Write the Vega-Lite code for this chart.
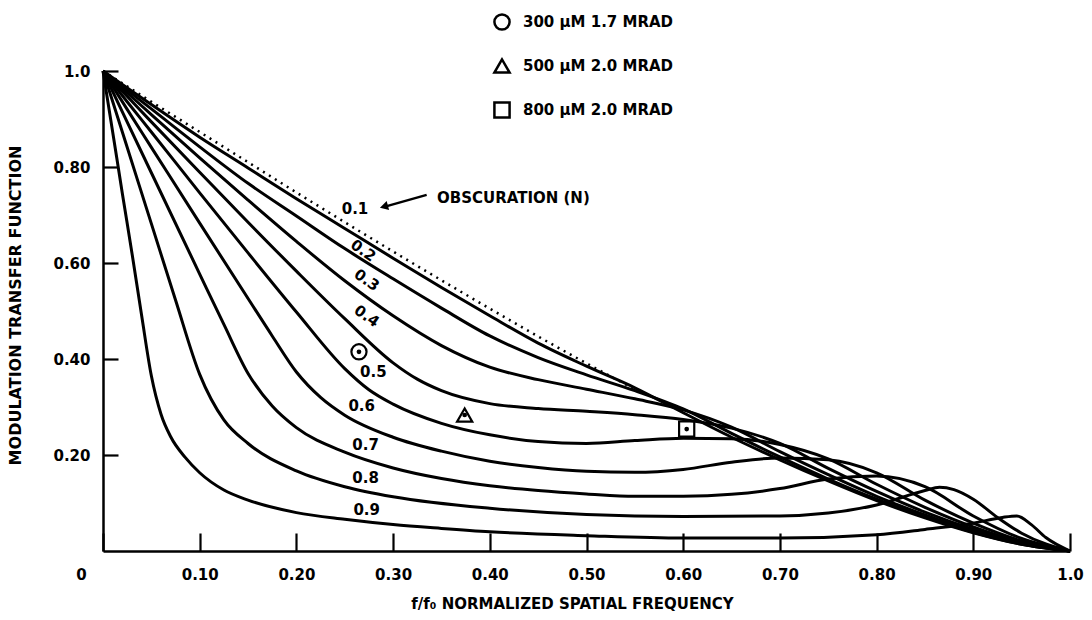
{
  "$schema": "https://vega.github.io/schema/vega-lite/v6.json",
  "width": 967,
  "height": 480,
  "autosize": "none",
  "padding": {"left": 103, "top": 71, "right": 22, "bottom": 69},
  "background": "white",
  "config": {
    "view": {"stroke": null},
    "font": "DejaVu Sans",
    "axis": {
      "labelFont": "DejaVu Sans", "labelFontWeight": "bold", "labelFontSize": 15, "labelColor": "black",
      "titleFont": "DejaVu Sans", "titleFontWeight": "bold", "titleFontSize": 15, "titleColor": "black",
      "domainColor": "black", "domainWidth": 2.5, "tickColor": "black", "tickWidth": 2.2, "grid": false
    }
  },
  "datasets": {
    "curves": [
      {"n":"0.1","x":0,"y":1},{"n":"0.1","x":0.02,"y":0.972},{"n":"0.1","x":0.05,"y":0.93},{"n":"0.1","x":0.1,"y":0.862},{"n":"0.1","x":0.15,"y":0.798},{"n":"0.1","x":0.2,"y":0.734},{"n":"0.1","x":0.25,"y":0.672},{"n":"0.1","x":0.3,"y":0.61},{"n":"0.1","x":0.35,"y":0.549},{"n":"0.1","x":0.4,"y":0.49},{"n":"0.1","x":0.45,"y":0.433},{"n":"0.1","x":0.5,"y":0.385},{"n":"0.1","x":0.55,"y":0.34},{"n":"0.1","x":0.6,"y":0.288},{"n":"0.1","x":0.65,"y":0.237},{"n":"0.1","x":0.7,"y":0.19},{"n":"0.1","x":0.75,"y":0.146},{"n":"0.1","x":0.8,"y":0.105},{"n":"0.1","x":0.85,"y":0.069},{"n":"0.1","x":0.9,"y":0.038},{"n":"0.1","x":0.95,"y":0.014},{"n":"0.1","x":1,"y":0},
      {"n":"0.2","x":0,"y":1},{"n":"0.2","x":0.02,"y":0.968},{"n":"0.2","x":0.05,"y":0.921},{"n":"0.2","x":0.1,"y":0.842},{"n":"0.2","x":0.15,"y":0.766},{"n":"0.2","x":0.2,"y":0.698},{"n":"0.2","x":0.25,"y":0.63},{"n":"0.2","x":0.3,"y":0.567},{"n":"0.2","x":0.35,"y":0.506},{"n":"0.2","x":0.4,"y":0.448},{"n":"0.2","x":0.45,"y":0.403},{"n":"0.2","x":0.5,"y":0.367},{"n":"0.2","x":0.55,"y":0.334},{"n":"0.2","x":0.6,"y":0.296},{"n":"0.2","x":0.65,"y":0.245},{"n":"0.2","x":0.7,"y":0.196},{"n":"0.2","x":0.75,"y":0.15},{"n":"0.2","x":0.8,"y":0.108},{"n":"0.2","x":0.85,"y":0.071},{"n":"0.2","x":0.9,"y":0.039},{"n":"0.2","x":0.95,"y":0.014},{"n":"0.2","x":1,"y":0},
      {"n":"0.3","x":0,"y":1},{"n":"0.3","x":0.02,"y":0.964},{"n":"0.3","x":0.05,"y":0.909},{"n":"0.3","x":0.1,"y":0.819},{"n":"0.3","x":0.15,"y":0.731},{"n":"0.3","x":0.2,"y":0.645},{"n":"0.3","x":0.25,"y":0.563},{"n":"0.3","x":0.3,"y":0.49},{"n":"0.3","x":0.35,"y":0.428},{"n":"0.3","x":0.4,"y":0.383},{"n":"0.3","x":0.45,"y":0.357},{"n":"0.3","x":0.5,"y":0.337},{"n":"0.3","x":0.55,"y":0.317},{"n":"0.3","x":0.6,"y":0.294},{"n":"0.3","x":0.65,"y":0.258},{"n":"0.3","x":0.7,"y":0.207},{"n":"0.3","x":0.75,"y":0.159},{"n":"0.3","x":0.8,"y":0.114},{"n":"0.3","x":0.85,"y":0.075},{"n":"0.3","x":0.9,"y":0.041},{"n":"0.3","x":0.95,"y":0.015},{"n":"0.3","x":1,"y":0},
      {"n":"0.4","x":0,"y":1},{"n":"0.4","x":0.02,"y":0.958},{"n":"0.4","x":0.05,"y":0.894},{"n":"0.4","x":0.1,"y":0.789},{"n":"0.4","x":0.15,"y":0.685},{"n":"0.4","x":0.2,"y":0.583},{"n":"0.4","x":0.25,"y":0.484},{"n":"0.4","x":0.3,"y":0.392},{"n":"0.4","x":0.325,"y":0.358},{"n":"0.4","x":0.35,"y":0.334},{"n":"0.4","x":0.4,"y":0.307},{"n":"0.4","x":0.45,"y":0.297},{"n":"0.4","x":0.5,"y":0.291},{"n":"0.4","x":0.55,"y":0.284},{"n":"0.4","x":0.6,"y":0.274},{"n":"0.4","x":0.65,"y":0.256},{"n":"0.4","x":0.7,"y":0.224},{"n":"0.4","x":0.75,"y":0.172},{"n":"0.4","x":0.8,"y":0.124},{"n":"0.4","x":0.85,"y":0.081},{"n":"0.4","x":0.9,"y":0.045},{"n":"0.4","x":0.95,"y":0.016},{"n":"0.4","x":1,"y":0},
      {"n":"0.5","x":0,"y":1},{"n":"0.5","x":0.025,"y":0.936},{"n":"0.5","x":0.05,"y":0.873},{"n":"0.5","x":0.1,"y":0.746},{"n":"0.5","x":0.15,"y":0.621},{"n":"0.5","x":0.2,"y":0.498},{"n":"0.5","x":0.25,"y":0.38},{"n":"0.5","x":0.275,"y":0.336},{"n":"0.5","x":0.3,"y":0.306},{"n":"0.5","x":0.35,"y":0.266},{"n":"0.5","x":0.4,"y":0.242},{"n":"0.5","x":0.45,"y":0.228},{"n":"0.5","x":0.5,"y":0.224},{"n":"0.5","x":0.55,"y":0.23},{"n":"0.5","x":0.6,"y":0.235},{"n":"0.5","x":0.65,"y":0.234},{"n":"0.5","x":0.7,"y":0.222},{"n":"0.5","x":0.75,"y":0.192},{"n":"0.5","x":0.8,"y":0.139},{"n":"0.5","x":0.85,"y":0.091},{"n":"0.5","x":0.9,"y":0.05},{"n":"0.5","x":0.95,"y":0.018},{"n":"0.5","x":1,"y":0},
      {"n":"0.6","x":0,"y":1},{"n":"0.6","x":0.025,"y":0.92},{"n":"0.6","x":0.05,"y":0.841},{"n":"0.6","x":0.1,"y":0.683},{"n":"0.6","x":0.15,"y":0.526},{"n":"0.6","x":0.175,"y":0.448},{"n":"0.6","x":0.2,"y":0.373},{"n":"0.6","x":0.225,"y":0.32},{"n":"0.6","x":0.25,"y":0.283},{"n":"0.6","x":0.3,"y":0.237},{"n":"0.6","x":0.35,"y":0.208},{"n":"0.6","x":0.4,"y":0.187},{"n":"0.6","x":0.45,"y":0.174},{"n":"0.6","x":0.5,"y":0.166},{"n":"0.6","x":0.55,"y":0.164},{"n":"0.6","x":0.6,"y":0.17},{"n":"0.6","x":0.65,"y":0.185},{"n":"0.6","x":0.7,"y":0.194},{"n":"0.6","x":0.75,"y":0.19},{"n":"0.6","x":0.8,"y":0.163},{"n":"0.6","x":0.85,"y":0.106},{"n":"0.6","x":0.9,"y":0.058},{"n":"0.6","x":0.95,"y":0.021},{"n":"0.6","x":1,"y":0},
      {"n":"0.7","x":0,"y":1},{"n":"0.7","x":0.02,"y":0.915},{"n":"0.7","x":0.05,"y":0.788},{"n":"0.7","x":0.1,"y":0.577},{"n":"0.7","x":0.125,"y":0.472},{"n":"0.7","x":0.15,"y":0.37},{"n":"0.7","x":0.175,"y":0.302},{"n":"0.7","x":0.2,"y":0.257},{"n":"0.7","x":0.25,"y":0.206},{"n":"0.7","x":0.3,"y":0.173},{"n":"0.7","x":0.35,"y":0.151},{"n":"0.7","x":0.4,"y":0.136},{"n":"0.7","x":0.45,"y":0.126},{"n":"0.7","x":0.5,"y":0.119},{"n":"0.7","x":0.55,"y":0.114},{"n":"0.7","x":0.6,"y":0.114},{"n":"0.7","x":0.65,"y":0.118},{"n":"0.7","x":0.7,"y":0.13},{"n":"0.7","x":0.75,"y":0.15},{"n":"0.7","x":0.8,"y":0.156},{"n":"0.7","x":0.85,"y":0.134},{"n":"0.7","x":0.9,"y":0.073},{"n":"0.7","x":0.95,"y":0.026},{"n":"0.7","x":1,"y":0},
      {"n":"0.8","x":0,"y":1},{"n":"0.8","x":0.02,"y":0.873},{"n":"0.8","x":0.05,"y":0.682},{"n":"0.8","x":0.075,"y":0.523},{"n":"0.8","x":0.1,"y":0.368},{"n":"0.8","x":0.125,"y":0.273},{"n":"0.8","x":0.15,"y":0.224},{"n":"0.8","x":0.2,"y":0.167},{"n":"0.8","x":0.25,"y":0.134},{"n":"0.8","x":0.3,"y":0.113},{"n":"0.8","x":0.4,"y":0.089},{"n":"0.8","x":0.5,"y":0.076},{"n":"0.8","x":0.6,"y":0.072},{"n":"0.8","x":0.7,"y":0.073},{"n":"0.8","x":0.75,"y":0.079},{"n":"0.8","x":0.8,"y":0.096},{"n":"0.8","x":0.85,"y":0.126},{"n":"0.8","x":0.865,"y":0.133},{"n":"0.8","x":0.88,"y":0.128},{"n":"0.8","x":0.9,"y":0.108},{"n":"0.8","x":0.925,"y":0.07},{"n":"0.8","x":0.95,"y":0.037},{"n":"0.8","x":1,"y":0},
      {"n":"0.9","x":0,"y":1},{"n":"0.9","x":0.01,"y":0.873},{"n":"0.9","x":0.02,"y":0.745},{"n":"0.9","x":0.03,"y":0.62},{"n":"0.9","x":0.04,"y":0.49},{"n":"0.9","x":0.05,"y":0.365},{"n":"0.9","x":0.06,"y":0.285},{"n":"0.9","x":0.07,"y":0.238},{"n":"0.9","x":0.085,"y":0.195},{"n":"0.9","x":0.1,"y":0.163},{"n":"0.9","x":0.125,"y":0.127},{"n":"0.9","x":0.15,"y":0.106},{"n":"0.9","x":0.2,"y":0.08},{"n":"0.9","x":0.25,"y":0.066},{"n":"0.9","x":0.3,"y":0.055},{"n":"0.9","x":0.35,"y":0.047},{"n":"0.9","x":0.4,"y":0.04},{"n":"0.9","x":0.5,"y":0.032},{"n":"0.9","x":0.6,"y":0.027},{"n":"0.9","x":0.7,"y":0.027},{"n":"0.9","x":0.8,"y":0.034},{"n":"0.9","x":0.85,"y":0.045},{"n":"0.9","x":0.9,"y":0.058},{"n":"0.9","x":0.93,"y":0.07},{"n":"0.9","x":0.945,"y":0.073},{"n":"0.9","x":0.96,"y":0.055},{"n":"0.9","x":0.975,"y":0.028},{"n":"0.9","x":1,"y":0}
    ],
    "dotted": [
      {"x":0,"y":1},{"x":0.05,"y":0.936},{"x":0.1,"y":0.873},{"x":0.15,"y":0.81},{"x":0.2,"y":0.747},{"x":0.25,"y":0.685},{"x":0.3,"y":0.624},{"x":0.35,"y":0.564},{"x":0.4,"y":0.505},{"x":0.45,"y":0.447},{"x":0.5,"y":0.391},{"x":0.55,"y":0.337}
    ],
    "labels": [
      {"label":"0.1","x":0.2606,"y":0.712},{"label":"0.2","x":0.2692,"y":0.626},{"label":"0.3","x":0.2727,"y":0.5646},{"label":"0.4","x":0.2727,"y":0.4896},{"label":"0.5","x":0.2795,"y":0.3736},{"label":"0.6","x":0.2675,"y":0.302},{"label":"0.7","x":0.2716,"y":0.221},{"label":"0.8","x":0.2716,"y":0.1528},{"label":"0.9","x":0.2727,"y":0.0854}
    ],
    "markers": [
      {"name":"300 µM 1.7 MRAD","x":0.2647,"y":0.415},
      {"name":"500 µM 2.0 MRAD","x":0.374,"y":0.2833},
      {"name":"800 µM 2.0 MRAD","x":0.6036,"y":0.254}
    ],
    "note": [
      {"text":"OBSCURATION (N)","x":0.3454,"y":0.735}
    ],
    "arrow": [
      {"x":0.3347,"y":0.742,"x2":0.2935,"y2":0.7185}
    ],
    "arrowhead": [
      {"x":0.2905,"y":0.7175}
    ]
  },
  "encoding": {
    "x": {
      "field": "x", "type": "quantitative",
      "scale": {"domain": [0, 1], "nice": false, "zero": false},
      "axis": {
        "values": [0, 0.1, 0.2, 0.3, 0.4, 0.5, 0.6, 0.7, 0.8, 0.9, 1],
        "labelExpr": "datum.value == 0 ? '0' : (datum.value == 1 ? '1.0' : format(datum.value, '.2f'))",
        "labelOffset": {"condition": {"test": "datum.value == 0", "value": -22}, "value": 0},
        "tickSize": -18,
        "labelPadding": 34,
        "labelFlush": false,
        "labelOverlap": false,
        "title": "f/f₀ NORMALIZED SPATIAL FREQUENCY",
        "titleX": 469, "titleY": 52, "titleAlign": "center", "titleBaseline": "middle"
      }
    },
    "y": {
      "field": "y", "type": "quantitative",
      "scale": {"domain": [0, 1], "nice": false, "zero": false},
      "axis": {
        "values": [0.2, 0.4, 0.6, 0.8, 1],
        "labelExpr": "datum.value == 1 ? '1.0' : format(datum.value, '.2f')",
        "tickSize": -15,
        "labelPadding": 28,
        "labelFlush": false,
        "labelOverlap": false,
        "title": "MODULATION TRANSFER FUNCTION",
        "titleFontSize": 16,
        "titleX": -88, "titleY": 234, "titleAngle": -90, "titleAlign": "center", "titleBaseline": "middle"
      }
    }
  },
  "layer": [
    {
      "data": {"name": "curves"},
      "mark": {"type": "line", "color": "black", "strokeWidth": 3, "interpolate": "monotone", "clip": false},
      "encoding": {"detail": {"field": "n", "type": "nominal"}}
    },
    {
      "data": {"name": "dotted"},
      "mark": {"type": "line", "color": "black", "strokeWidth": 2.5, "strokeDash": [2, 5], "interpolate": "monotone"},
      "encoding": {}
    },
    {
      "data": {"name": "labels"},
      "mark": {"type": "text", "font": "DejaVu Sans", "fontWeight": "bold", "fontSize": 15, "color": "black", "align": "center", "baseline": "middle"},
      "encoding": {
        "text": {"field": "label", "type": "nominal"},
        "angle": {"condition": {"test": "indexof(['0.2','0.3','0.4'], datum.label) >= 0", "value": 35}, "value": 0}
      }
    },
    {
      "data": {"name": "markers"},
      "mark": {"type": "point", "filled": false, "color": "black", "strokeWidth": 2.2, "size": 230, "opacity": 1},
      "encoding": {
        "shape": {
          "field": "name", "type": "nominal",
          "scale": {"domain": ["300 µM 1.7 MRAD", "500 µM 2.0 MRAD", "800 µM 2.0 MRAD"], "range": ["circle", "triangle-up", "square"]},
          "legend": {
            "orient": "none", "legendX": 390, "legendY": -58, "title": null,
            "labelFont": "DejaVu Sans", "labelFontWeight": "bold", "labelFontSize": 15, "labelColor": "black",
            "labelLimit": 400, "labelOffset": 12,
            "symbolSize": 230, "symbolStrokeWidth": 2.5, "symbolStrokeColor": "black", "symbolFillColor": "white",
            "rowPadding": 19, "padding": 0
          }
        }
      }
    },
    {
      "data": {"name": "markers"},
      "mark": {"type": "point", "filled": true, "color": "black", "size": 22, "opacity": 1, "shape": "circle"},
      "encoding": {}
    },
    {
      "data": {"name": "note"},
      "mark": {"type": "text", "font": "DejaVu Sans", "fontWeight": "bold", "fontSize": 15, "color": "black", "align": "left", "baseline": "middle"},
      "encoding": {"text": {"field": "text", "type": "nominal"}}
    },
    {
      "data": {"name": "arrow"},
      "mark": {"type": "rule", "color": "black", "strokeWidth": 2.5},
      "encoding": {"x2": {"field": "x2"}, "y2": {"field": "y2"}}
    },
    {
      "data": {"name": "arrowhead"},
      "mark": {"type": "point", "shape": "triangle-left", "filled": true, "color": "black", "size": 90, "angle": -15, "opacity": 1},
      "encoding": {}
    }
  ]
}
